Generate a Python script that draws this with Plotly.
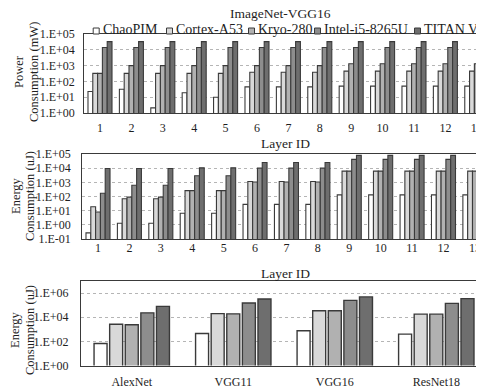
import plotly.graph_objects as go

# ---------------- data ----------------
series = ["ChaoPIM", "Cortex-A53", "Kryo-280", "Intel-i5-8265U", "TITAN V"]
layers = [str(i) for i in range(1, 14)]

power_chaopim = [23, 32, 2.1, 19, 10, 45, 45, 45, 50, 50, 50, 50, 50]
power_cortex = [320, 320, 320, 320, 320, 380, 380, 380, 450, 450, 450, 450, 450]
power_kryo = [320, 1000, 1000, 1000, 1000, 1000, 1000, 1000, 1300, 1300, 1300, 1300, 1300]
power_intel = [14000] * 13
power_titan = [33000] * 13

energy_chaopim = [0.27, 1.3, 1.3, 6.5, 6.5, 28, 28, 28, 130, 130, 130, 130, 130]
energy_cortex = [19, 70, 70, 260, 260, 1150, 1150, 1150, 6200, 6200, 6200, 6200, 6200]
energy_kryo = [8, 90, 90, 260, 260, 1050, 1050, 1050, 6200, 6200, 6200, 6200, 6200]
energy_intel = [170, 620, 620, 2900, 2900, 10000, 10000, 10000, 42000, 42000, 42000, 42000, 42000]
energy_titan = [9500, 9500, 9500, 10500, 10500, 25000, 25000, 25000, 80000, 80000, 80000, 80000, 80000]

networks = ["AlexNet", "VGG11", "VGG16", "ResNet18"]
net_chaopim = [66, 450, 760, 400]
net_cortex = [2600, 20000, 34000, 18000]
net_kryo = [2400, 19000, 34000, 18000]
net_intel = [23000, 150000, 250000, 140000]
net_titan = [79000, 320000, 480000, 350000]

power_tickvals = [1, 10, 100, 1e3, 1e4, 1e5]
power_ticktext = ["1.E+00", "1.E+01", "1.E+02", "1.E+03", "1.E+04", "1.E+05"]
energy_tickvals = [0.1, 1, 10, 100, 1e3, 1e4, 1e5]
energy_ticktext = ["1.E-01", "1.E+00", "1.E+01", "1.E+02", "1.E+03", "1.E+04", "1.E+05"]
net_tickvals = [1, 100, 1e4, 1e6]
net_ticktext = ["1.E+00", "1.E+02", "1.E+04", "1.E+06"]

# ---------------- style ----------------
# the page body has an 8px margin, so the figure is drawn 8px in from the window edges
OFF = 8
W, H = 484 - OFF, 390 - OFF
colors = ["#ffffff", "#d9d9d9", "#b1b1b1", "#8d8d8d", "#6e6e6e"]
line_col = "#3a3a3a"
FONT = "Liberation Serif, Times New Roman, Times, serif"
TXT = "#1e1e1e"

def px(x):
    return (x - OFF) / W

def py(y):
    return 1 - (y - OFF) / H

fig = go.Figure()

power = [power_chaopim, power_cortex, power_kryo, power_intel, power_titan]
energy = [energy_chaopim, energy_cortex, energy_kryo, energy_intel, energy_titan]
nets = [net_chaopim, net_cortex, net_kryo, net_intel, net_titan]

bw = 0.153
for i, name in enumerate(series):
    fig.add_trace(go.Bar(x=layers, y=power[i], name=name, xaxis="x", yaxis="y",
                         width=bw, offset=-2.5 * bw + i * bw,
                         marker=dict(color=colors[i], line=dict(color=line_col, width=1.1)),
                         showlegend=False))
for i, name in enumerate(series):
    fig.add_trace(go.Bar(x=layers, y=energy[i], name=name, xaxis="x2", yaxis="y2",
                         width=bw, offset=-2.5 * bw + i * bw,
                         marker=dict(color=colors[i], line=dict(color=line_col, width=1.1)),
                         showlegend=False))
slot, bw3 = 0.1537, 0.128
for i, name in enumerate(series):
    fig.add_trace(go.Bar(x=networks, y=nets[i], name=name, xaxis="x3", yaxis="y3",
                         width=bw3, offset=-(4 * slot + bw3) / 2 + i * slot,
                         marker=dict(color=colors[i], line=dict(color=line_col, width=1.4)),
                         showlegend=False))

tickfont = dict(family=FONT, size=12, color=TXT)

def xax(left, rng, standoff, anchor):
    return dict(domain=[px(left), 1], type="category", range=rng, anchor=anchor,
                showline=True, linecolor=line_col, linewidth=1.2, mirror=True,
                showgrid=False, ticks="", tickfont=tickfont, automargin=False,
                ticklabelstandoff=standoff)

def yax(dom, rng, tv, tt, standoff, anchor):
    return dict(domain=dom, type="log", range=rng, anchor=anchor,
                tickvals=tv, ticktext=tt, showline=True, linecolor=line_col, linewidth=1.2,
                showgrid=True, gridcolor="#b5b5b5", griddash="dot", gridwidth=1,
                ticks="", tickfont=tickfont, automargin=False, ticklabelstandoff=standoff)

fig.update_layout(
    width=W, height=H, margin=dict(l=0, r=0, t=0, b=0),
    paper_bgcolor="white", plot_bgcolor="white", barmode="overlay",
    font=dict(family=FONT, color=TXT),
    xaxis=xax(84.3, [-0.5, 12.23], 3, "y"),
    yaxis=yax([py(113), py(34)], [0, 5], power_tickvals, power_ticktext, 6, "x"),
    xaxis2=xax(82.3, [-0.5, 12.29], -3, "y2"),
    yaxis2=yax([py(239), py(154)], [-1, 5], energy_tickvals, energy_ticktext, 8, "x2"),
    xaxis3=xax(81, [-0.5, 3.47], 5, "y3"),
    yaxis3=yax([py(365.5), py(281)], [0, 7], net_tickvals, net_ticktext, 9, "x3"),
)

ann = []
def text(x, y, s, size=13, angle=0, xanchor="center"):
    ann.append(dict(x=px(x), y=py(y), xref="paper", yref="paper", text=s, showarrow=False,
                    xanchor=xanchor, yanchor="middle", textangle=angle,
                    font=dict(family=FONT, size=size, color=TXT)))

text(280, 14, "ImageNet-VGG16", 13.5)
text(285, 143, "Layer ID", 13.5)
text(285, 273, "Layer ID", 13.5)
text(19, 72, "Power", 12.5, -90)
text(34, 72, "Consumption (mW)", 12.5, -90)
text(16, 196, "Energy", 12.5, -90)
text(30, 196, "Consumption (uJ)", 12.5, -90)
text(15, 330, "Energy", 12.5, -90)
text(30, 330, "Consumption (uJ)", 12.5, -90)

# legend (custom, compact like the reference)
leg_text_x = [100.7, 174, 256, 322, 422]
shapes = []
for i, name in enumerate(series):
    tx = leg_text_x[i]
    shapes.append(dict(type="rect", xref="paper", yref="paper",
                       x0=px(tx - 7.5), x1=px(tx - 1.5), y0=py(34), y1=py(28),
                       fillcolor=colors[i], line=dict(color=line_col, width=1)))
    text(tx, 29.5, name, 14, 0, "left")

fig.update_layout(annotations=ann, shapes=shapes)
fig.write_html("out.html")
